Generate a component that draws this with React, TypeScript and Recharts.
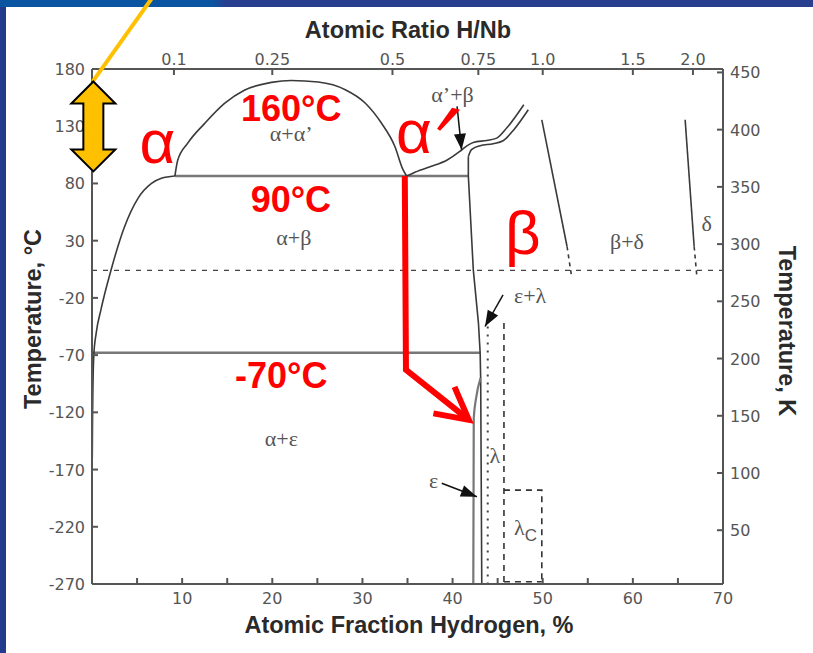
import React from 'react';
import { ComposedChart, Line, XAxis, YAxis, ReferenceLine, ReferenceDot, Scatter } from 'recharts';

type Pt = { x: number; y: number };
type Lbl = { x: number; y: number; text: string; sub?: string };

// ---------- axes ----------
const xTicks = [5, 10, 15, 20, 25, 30, 35, 40, 45, 50, 55, 60, 65, 70];
const cTicks = [-270, -220, -170, -120, -70, -20, 30, 80, 130, 180];
const kTicks = [50, 100, 150, 200, 250, 300, 350, 400, 450];
const ratioValues = [0.1, 0.25, 0.5, 0.75, 1.0, 1.5, 2.0];
const ratioLabels = ['0.1', '0.25', '0.5', '0.75', '1.0', '1.5', '2.0'];
const ratioTicks = ratioValues.map((r) => (r / (1 + r)) * 100);

// ---------- phase boundaries (x = at.% H, y = °C) ----------
const alphaSolvus: Pt[] = [
  { x: 0.03, y: -160 }, { x: 0.06, y: -125 }, { x: 0.1, y: -100 }, { x: 0.2, y: -70 },
  { x: 0.46, y: -51 }, { x: 1.0, y: -30 }, { x: 2.1, y: 4 }, { x: 3.6, y: 42 },
  { x: 5.1, y: 67 }, { x: 6.6, y: 80 }, { x: 7.7, y: 84.5 }, { x: 9.2, y: 86.5 },
];
const miscibilityGap: Pt[] = [
  { x: 9.2, y: 86.5 }, { x: 9.5, y: 100 }, { x: 10.6, y: 115 }, { x: 12.5, y: 132.5 },
  { x: 14.7, y: 150 }, { x: 16.9, y: 161.5 }, { x: 19.9, y: 168.3 }, { x: 22.1, y: 170 },
  { x: 25.1, y: 168.6 }, { x: 28.1, y: 161.9 }, { x: 30.3, y: 150.3 }, { x: 32.1, y: 132.8 },
  { x: 33.6, y: 112.3 }, { x: 34.5, y: 92 }, { x: 34.9, y: 86.5 },
];
const alphaPrimeUpper: Pt[] = [
  { x: 34.9, y: 86.5 }, { x: 35.6, y: 89 }, { x: 37.5, y: 94.5 }, { x: 39.4, y: 100.5 },
  { x: 40.8, y: 108 }, { x: 41.4, y: 111.8 }, { x: 42.3, y: 115.8 }, { x: 43.8, y: 117.6 },
  { x: 44.9, y: 119.6 }, { x: 46.0, y: 128.4 }, { x: 47.9, y: 148.8 },
];
const betaUpper: Pt[] = [
  { x: 41.75, y: 103.6 }, { x: 42.1, y: 109.5 }, { x: 43.06, y: 113 }, { x: 44.5, y: 114.7 },
  { x: 45.6, y: 117.3 }, { x: 46.8, y: 127 }, { x: 48.4, y: 144.4 },
];
const betaBoundary: Pt[] = [
  { x: 41.75, y: 103.6 }, { x: 41.75, y: 86.5 }, { x: 42.3, y: 4.5 }, { x: 42.87, y: -42 },
  { x: 43.06, y: -68 }, { x: 43.12, y: -92 }, { x: 43.24, y: -270 },
];
const epsilonLeft: Pt[] = [
  { x: 43.1, y: -90 }, { x: 42.6, y: -108 }, { x: 42.35, y: -125 }, { x: 42.3, y: -270 },
];
const eutectoid90: Pt[] = [{ x: 9.2, y: 86.5 }, { x: 41.75, y: 86.5 }];
const eutectoidM70: Pt[] = [{ x: 0, y: -68 }, { x: 43.06, y: -68 }];
const betaDeltaSolid: Pt[] = [{ x: 49.9, y: 135.6 }, { x: 52.7, y: 24.9 }];
const betaDeltaDashed: Pt[] = [{ x: 52.7, y: 24.9 }, { x: 53.2, y: -1.3 }];
const deltaSolid: Pt[] = [{ x: 65.8, y: 135.6 }, { x: 66.8, y: 24.9 }];
const deltaDashed: Pt[] = [{ x: 66.8, y: 24.9 }, { x: 67.1, y: -1.3 }];
const lambdaDotted: Pt[] = [{ x: 43.9, y: -45 }, { x: 43.9, y: -270 }];
const lambdaDashed: Pt[] = [{ x: 45.7, y: -42 }, { x: 45.7, y: -270 }];
const lambdaCBox: Pt[] = [{ x: 45.7, y: -188 }, { x: 49.9, y: -188 }, { x: 49.9, y: -270 }];
const lambdaCBottom: Pt[] = [{ x: 45.7, y: -268 }, { x: 49.9, y: -268 }];
const roomTempLine = 4;

// ---------- arrows ----------
const arrowAlphaPrimeBeta: Pt[] = [{ x: 40.5, y: 147.3 }, { x: 41.0, y: 109.5 }];
const arrowEpsLambda: Pt[] = [{ x: 45.6, y: -17.4 }, { x: 43.6, y: -45 }];
const arrowEps: Pt[] = [{ x: 38.8, y: -182 }, { x: 42.7, y: -193.7 }];
const redPath: Pt[] = [{ x: 34.7, y: 86.5 }, { x: 34.83, y: -82.9 }, { x: 41.8, y: -126.6 }];
const yellowLine: Pt[] = [{ x: 0.09, y: 169.2 }, { x: 7.2, y: 248 }];
const yellowArrowAt: Pt = { x: 0.15, y: 129.8 };
const primeAt: Pt = { x: 39.5, y: 135.6 };

// ---------- labels ----------
const phaseLabels: Lbl[] = [
  { x: 22.1, y: 123.5, text: "α+α’" },
  { x: 22.4, y: 32.5, text: 'α+β' },
  { x: 21.0, y: -143.2, text: 'α+ε' },
  { x: 40.0, y: 157.5, text: "α’+β" },
  { x: 59.35, y: 29.3, text: 'β+δ' },
  { x: 68.2, y: 45.4, text: 'δ' },
  { x: 48.6, y: -18.2, text: 'ε+λ' },
  { x: 44.7, y: -158, text: 'λ' },
  { x: 48.1, y: -221, text: 'λ', sub: 'C' },
  { x: 37.9, y: -179.5, text: 'ε' },
];
const tempLabels: Lbl[] = [
  { x: 22.1, y: 134.2, text: '160°C' },
  { x: 22.06, y: 55, text: '90°C' },
  { x: 21.0, y: -98.9, text: '-70°C' },
];
const phaseNames: Lbl[] = [
  { x: 7.27, y: 97.9, text: 'α' },
  { x: 35.7, y: 106.6, text: 'α' },
  { x: 47.8, y: 18.3, text: 'β' },
];

// ---------- styles ----------
const AX = '#555';
const INK = '#3a3a3a';
const TICKFONT = '"DejaVu Sans", sans-serif';
const SANS = '"Liberation Sans", Arial, sans-serif';
const SERIF = '"Liberation Serif", "Times New Roman", serif';

const BottomTick = (p: any) => {
  const v = p.payload.value;
  return (
    <g>
      <line x1={p.x} y1={p.y} x2={p.x} y2={p.y - 6} stroke={AX} strokeWidth={2} />
      {v % 10 === 0 && (
        <text x={p.x} y={p.y + 20} textAnchor="middle" fontFamily={TICKFONT} fontSize={16} fill="#555">{v}</text>
      )}
    </g>
  );
};
const TopTick = (p: any) => {
  const v = p.payload.value;
  let idx = ratioTicks.findIndex((t) => Math.abs(t - v) < 1e-6);
  if (idx < 0) idx = p.index;
  return (
    <g>
      <line x1={p.x} y1={p.y} x2={p.x} y2={p.y + 6} stroke={AX} strokeWidth={2} />
      <text x={p.x} y={p.y - 4} textAnchor="middle" fontFamily={TICKFONT} fontSize={16} fill="#555">{ratioLabels[idx]}</text>
    </g>
  );
};
const LeftTick = (p: any) => (
  <g>
    <line x1={p.x} y1={p.y} x2={p.x + 6} y2={p.y} stroke={AX} strokeWidth={2} />
    <text x={p.x - 7} y={p.y + 6} textAnchor="end" fontFamily={TICKFONT} fontSize={16} fill="#555">{p.payload.value}</text>
  </g>
);
const RightTick = (p: any) => (
  <g>
    <line x1={p.x} y1={p.y} x2={p.x - 6} y2={p.y} stroke={AX} strokeWidth={2} />
    <text x={p.x + 7} y={p.y + 6} textAnchor="start" fontFamily={TICKFONT} fontSize={16} fill="#555">{p.payload.value}</text>
  </g>
);

const arrowHead = (color: string, len: number, half: number) => (p: any) => {
  const pts = p.points;
  const k = `ah-${p.index}`;
  if (!pts || p.index !== pts.length - 1) return <g key={k} />;
  const a = pts[pts.length - 2];
  const b = pts[pts.length - 1];
  const ang = Math.atan2(b.y - a.y, b.x - a.x);
  const c = Math.cos(ang), s = Math.sin(ang);
  const bx = b.x - len * c, by = b.y - len * s;
  const pts2 = `${b.x},${b.y} ${bx - half * s},${by + half * c} ${bx + half * s},${by - half * c}`;
  return <polygon key={k} points={pts2} fill={color} />;
};

const redChevron = (p: any) => {
  const pts = p.points;
  const k = `rc-${p.index}`;
  if (!pts || p.index !== pts.length - 1) return <g key={k} />;
  const a = pts[pts.length - 2];
  const b = pts[pts.length - 1];
  const back = Math.atan2(a.y - b.y, a.x - b.x);
  const L = 36, d = 0.49;
  const p1 = [b.x + L * Math.cos(back + d), b.y + L * Math.sin(back + d)];
  const p2 = [b.x + L * Math.cos(back - d), b.y + L * Math.sin(back - d)];
  return (
    <polyline key={k} points={`${p1[0]},${p1[1]} ${b.x},${b.y} ${p2[0]},${p2[1]}`} fill="none" stroke="#ff0000" strokeWidth={6} strokeLinejoin="miter" />
  );
};

const phaseText = (p: any) => {
  const d: Lbl = p.payload;
  return (
    <text x={p.cx} y={p.cy} textAnchor="middle" dominantBaseline="central" fontFamily={SERIF} fontSize={22} fill="#555">
      {d.text}
      {d.sub && (
        <tspan dy={7} fontFamily={SANS} fontSize={17}>{d.sub}</tspan>
      )}
    </text>
  );
};
const tempText = (p: any) => (
  <text x={p.cx} y={p.cy} textAnchor="middle" fontFamily={SANS} fontWeight="bold" fontSize={36} fill="#ff0000">{p.payload.text}</text>
);
const nameText = (p: any) => (
  <text x={p.cx} y={p.cy} textAnchor="middle" fontFamily={SANS} fontSize={62} fill="#ff0000">{p.payload.text}</text>
);

const doubleArrow = (p: any) => {
  const { cx, cy } = p;
  const q = [
    [0, -45], [22, -23], [10, -23], [10, 23], [22, 23], [0, 45], [-22, 23], [-10, 23], [-10, -23], [-22, -23],
  ].map(([dx, dy]) => `${cx + dx},${cy + dy}`).join(' ');
  return <polygon points={q} fill="#FFC000" stroke="#000" strokeWidth={2} strokeLinejoin="miter" />;
};
const primeWedge = (p: any) => {
  const { cx, cy } = p;
  const q = [[4, -12], [12, -10], [-8, 11], [-11, 9]].map(([dx, dy]) => `${cx + dx},${cy + dy}`).join(' ');
  return <polygon points={q} fill="#ff0000" />;
};

const boundary = (key: string, data: Pt[], opts: any = {}) => (
  <Line
    key={key}
    data={data}
    dataKey="y"
    type={opts.type ?? 'linear'}
    stroke={opts.stroke ?? INK}
    strokeWidth={opts.width ?? 1.6}
    strokeDasharray={opts.dash}
    dot={opts.dot ?? false}
    activeDot={false}
    legendType="none"
    isAnimationActive={false}
  />
);

export default function App() {
  return (
    <div style={{ position: 'absolute', left: 0, top: 0, width: 813, height: 653, background: '#213c8d', overflow: 'hidden' }}>
      <div style={{ position: 'absolute', left: 0, top: 0, width: 813, height: 7, background: 'linear-gradient(90deg, #0a55a2 0px, #0a55a2 212px, #283f8f 226px, #283f8f 100%)' }} />
      <div style={{ position: 'absolute', left: 6, top: 7, width: 807, height: 646, background: '#ffffff' }} />
      <div style={{ position: 'absolute', left: 0, top: 0 }}>
        <ComposedChart width={813} height={653} margin={{ top: 0, right: 0, bottom: 0, left: 0 }}>
          <XAxis
            dataKey="x" type="number" domain={[0, 70]} ticks={xTicks} interval={0} allowDataOverflow
            height={69} tickSize={0} tickMargin={0} tickLine={false} tick={BottomTick}
            axisLine={{ stroke: AX, strokeWidth: 2 }}
          />
          <XAxis
            xAxisId="top" orientation="top" dataKey="x" type="number" domain={[0, 70]} ticks={ratioTicks} interval={0} allowDataOverflow
            height={69} tickSize={0} tickMargin={0} tickLine={false} tick={TopTick}
            axisLine={{ stroke: AX, strokeWidth: 2 }}
          />
          <YAxis
            dataKey="y" type="number" domain={[-270, 180]} ticks={cTicks} interval={0} allowDataOverflow
            width={92} tickSize={0} tickMargin={0} tickLine={false} tick={LeftTick}
            axisLine={{ stroke: AX, strokeWidth: 2 }}
          />
          <YAxis
            yAxisId="K" orientation="right" type="number" domain={[3, 453]} ticks={kTicks} interval={0} allowDataOverflow
            width={90} tickSize={0} tickMargin={0} tickLine={false} tick={RightTick}
            axisLine={{ stroke: AX, strokeWidth: 2 }}
          />

          <ReferenceLine y={roomTempLine} stroke="#444" strokeWidth={1.3} strokeDasharray="5 6" />

          {boundary('eut90', eutectoid90, { stroke: '#777', width: 2.5 })}
          {boundary('eut70', eutectoidM70, { stroke: '#777', width: 2.5 })}
          {boundary('aSolv', alphaSolvus, { type: 'monotone' })}
          {boundary('gap', miscibilityGap, { type: 'monotone' })}
          {boundary('apU', alphaPrimeUpper, { type: 'monotone' })}
          {boundary('bU', betaUpper, { type: 'monotone' })}
          {boundary('bB', betaBoundary)}
          {boundary('eL', epsilonLeft, { stroke: '#777', width: 2.2, type: 'monotone' })}
          {boundary('bdS', betaDeltaSolid)}
          {boundary('bdD', betaDeltaDashed, { dash: '4 4' })}
          {boundary('dS', deltaSolid)}
          {boundary('dD', deltaDashed, { dash: '4 4' })}
          {boundary('lDot', lambdaDotted, { stroke: '#444', width: 2, dash: '2 6' })}
          {boundary('lDash', lambdaDashed, { stroke: '#333', width: 1.6, dash: '6 5' })}
          {boundary('lcBox', lambdaCBox, { stroke: '#333', width: 1.6, dash: '6 5' })}
          {boundary('lcBot', lambdaCBottom, { stroke: '#333', width: 1.6, dash: '6 5' })}

          {boundary('arr1', arrowAlphaPrimeBeta, { stroke: '#111', width: 1.5, dot: arrowHead('#111', 16, 6) })}
          {boundary('arr2', arrowEpsLambda, { stroke: '#111', width: 1.5, dot: arrowHead('#111', 16, 6) })}
          {boundary('arr3', arrowEps, { stroke: '#111', width: 1.5, dot: arrowHead('#111', 16, 6) })}

          <Scatter data={phaseLabels} dataKey="y" shape={phaseText} isAnimationActive={false} legendType="none" />
          <Scatter data={tempLabels} dataKey="y" shape={tempText} isAnimationActive={false} legendType="none" />
          <Scatter data={phaseNames} dataKey="y" shape={nameText} isAnimationActive={false} legendType="none" />

          {boundary('red', redPath, { stroke: '#ff0000', width: 6, dot: redChevron })}

          <ReferenceLine segment={yellowLine} stroke="#FFC000" strokeWidth={4} ifOverflow="visible" zIndex={2000} />
          <ReferenceDot x={yellowArrowAt.x} y={yellowArrowAt.y} r={1} ifOverflow="visible" shape={doubleArrow} zIndex={2000} />
          <ReferenceDot x={primeAt.x} y={primeAt.y} r={1} ifOverflow="visible" shape={primeWedge} />
        </ComposedChart>
      </div>
      <svg width={813} height={653} style={{ position: 'absolute', left: 0, top: 0, pointerEvents: 'none' }}>
        <g fontFamily={SANS} fontWeight="bold" fontSize={23.5} fill="#2a2a2a">
          <text x={408} y={38} textAnchor="middle">Atomic Ratio H/Nb</text>
          <text x={409} y={633} textAnchor="middle">Atomic Fraction Hydrogen, %</text>
          <text transform="translate(33,319) rotate(-90)" textAnchor="middle" dominantBaseline="central">Temperature, °C</text>
          <text transform="translate(787,331) rotate(90)" textAnchor="middle" dominantBaseline="central">Temperature, K</text>
        </g>
      </svg>
    </div>
  );
}
